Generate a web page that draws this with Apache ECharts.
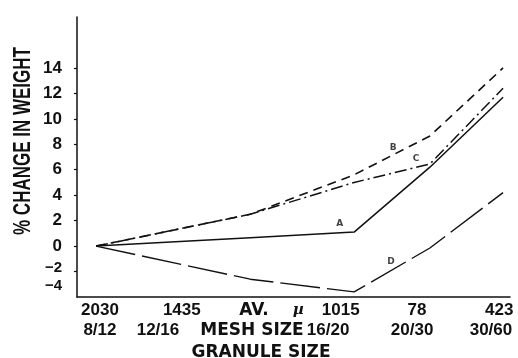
<!DOCTYPE html>
<html>
<head>
<meta charset="utf-8">
<script src="https://cdn.jsdelivr.net/npm/echarts@6/dist/echarts.min.js"></script>
<style>
html,body{margin:0;padding:0;background:#fff;}
#chart{width:518px;height:358px;}
</style>
</head>
<body>
<div id="chart"></div>
<script>
// positions of the granule-size classes along the x axis (axis units 0..100)
const xPos = [4.4, 40, 64, 81.5, 98.4];
// % change in weight
const seriesA = [0, 0.65, 1.1, 6.2, 11.7];
const seriesB = [0, 2.5, 5.6, 8.65, 14.0];
const seriesC = [0, 2.5, 5.0, 6.45, 12.4];
const seriesD = [0, -2.6, -3.6, -0.15, 4.2];
// tick label rows
const sizeLabels = ['2030', '1435', 'AV. µ', '1015', '78', '423'];
const sizeLabelPos = [5.3, 24.2, 44.9, 60.9, 78.5, 97.5];
const meshLabels = ['8/12', '12/16', 'MESH SIZE', '16/20', '20/30', '30/60'];
const meshLabelPos = [5.3, 18.7, 40.4, 58.0, 77.4, 95.6];
const yTickLabels = [-4, -2, 0, 2, 4, 6, 8, 10, 12, 14];
const yTicks = [-2, 0, 2, 4, 6, 8, 10, 12, 14];
// curve letters [x, y, text]
const curveLetters = [[60.7, 1.73, 'A'], [73, 7.7, 'B'], [78.3, 6.9, 'C'], [72.5, -1.2, 'D']];

const ink = '#111';
const numFont = { fontFamily: 'Liberation Sans', fontWeight: 'bold', fontSize: 17, color: ink };
const wordFont = { fontFamily: 'DejaVu Sans', fontWeight: 'bold', fontSize: 17, color: ink };

function fmtLabel(txt) {
  if (txt === 'AV. µ') return '{w|AV.}{mu|µ}';
  if (/^[0-9\/]+$/.test(txt)) return '{n|' + txt + '}';
  return '{w|' + txt + '}';
}
function lookup(vals, labels, v) {
  for (let i = 0; i < vals.length; i++) if (Math.abs(vals[i] - v) < 1e-6) return labels[i];
  return '';
}
const richX = {
  n: numFont,
  w: wordFont,
  mu: { fontFamily: 'DejaVu Serif', fontStyle: 'italic', fontWeight: 'bold', fontSize: 15, color: ink, padding: [0, 0, 0, 24] }
};

function mkLine(name, vals, type, width) {
  return {
    name: name, type: 'line', xAxisIndex: 0, yAxisIndex: 0,
    data: xPos.map((x, i) => [x, vals[i]]),
    symbol: 'none', silent: true,
    lineStyle: { color: ink, width: width, type: type }
  };
}

const chart = echarts.init(document.getElementById('chart'), null, { renderer: 'canvas' });
chart.setOption({
  animation: false,
  backgroundColor: '#fff',
  grid: { left: 77, right: 8, top: 17, bottom: 61, containLabel: false, outerBoundsMode: 'none' },
  xAxis: [
    {
      type: 'value', min: 0, max: 100,
      axisLine: { show: true, onZero: false, lineStyle: { color: ink, width: 1.5 } },
      axisTick: { show: false }, splitLine: { show: false },
      axisLabel: {
        customValues: sizeLabelPos, margin: 5, showMinLabel: true, showMaxLabel: true,
        formatter: v => fmtLabel(lookup(sizeLabelPos, sizeLabels, v)),
        rich: richX
      },
      name: 'GRANULE SIZE', nameLocation: 'middle', nameGap: 47,
      nameTextStyle: Object.assign({}, wordFont, { padding: [0, 65, 0, 0] })
    },
    {
      type: 'value', min: 0, max: 100, position: 'bottom', offset: 20,
      axisLine: { show: false, onZero: false }, axisTick: { show: false }, splitLine: { show: false },
      axisLabel: {
        customValues: meshLabelPos, margin: 5, showMinLabel: true, showMaxLabel: true,
        formatter: v => fmtLabel(lookup(meshLabelPos, meshLabels, v)),
        rich: richX
      }
    }
  ],
  yAxis: {
    type: 'value', min: -4, max: 18, interval: 2,
    axisLine: { show: true, onZero: false, lineStyle: { color: ink, width: 1.5 } },
    axisTick: { show: true, inside: false, length: 3, customValues: yTicks, lineStyle: { color: ink, width: 1.2 } },
    splitLine: { show: false },
    axisLabel: {
      customValues: yTickLabels, margin: 15,
      formatter: v => {
        if (v === -2) return '{m2|−2}';
        if (v === -4) return '{m4|−4}';
        return '{n|' + v + '}';
      },
      rich: {
        n: numFont,
        m2: Object.assign({}, numFont, { fontSize: 15, padding: [0, 0, 8, 0] }),
        m4: Object.assign({}, numFont, { fontSize: 15, padding: [0, 0, 22, 0] })
      }
    }
  },
  graphic: [{
    type: 'text', x: 23, y: 141, rotation: Math.PI / 2, scaleX: 1, scaleY: 1.4,
    silent: true,
    style: {
      text: '% CHANGE IN WEIGHT', fill: ink,
      font: 'bold 17px "Liberation Sans"',
      align: 'center', verticalAlign: 'middle'
    }
  }],
  series: [
    mkLine('A', seriesA, 'solid', 1.5),
    mkLine('B', seriesB, [9, 6], 1.6),
    mkLine('C', seriesC, [12, 4, 2, 4], 1.5),
    mkLine('D', seriesD, [40, 7], 1.4),
    {
      type: 'scatter', xAxisIndex: 0, yAxisIndex: 0, symbolSize: 0, silent: true,
      data: curveLetters.map(p => ({ value: [p[0], p[1]], name: p[2] })),
      label: {
        show: true, position: 'inside', formatter: p => p.name,
        fontFamily: 'DejaVu Sans', fontWeight: 'bold', fontSize: 9, color: ink
      }
    }
  ]
});
</script>
</body>
</html>
